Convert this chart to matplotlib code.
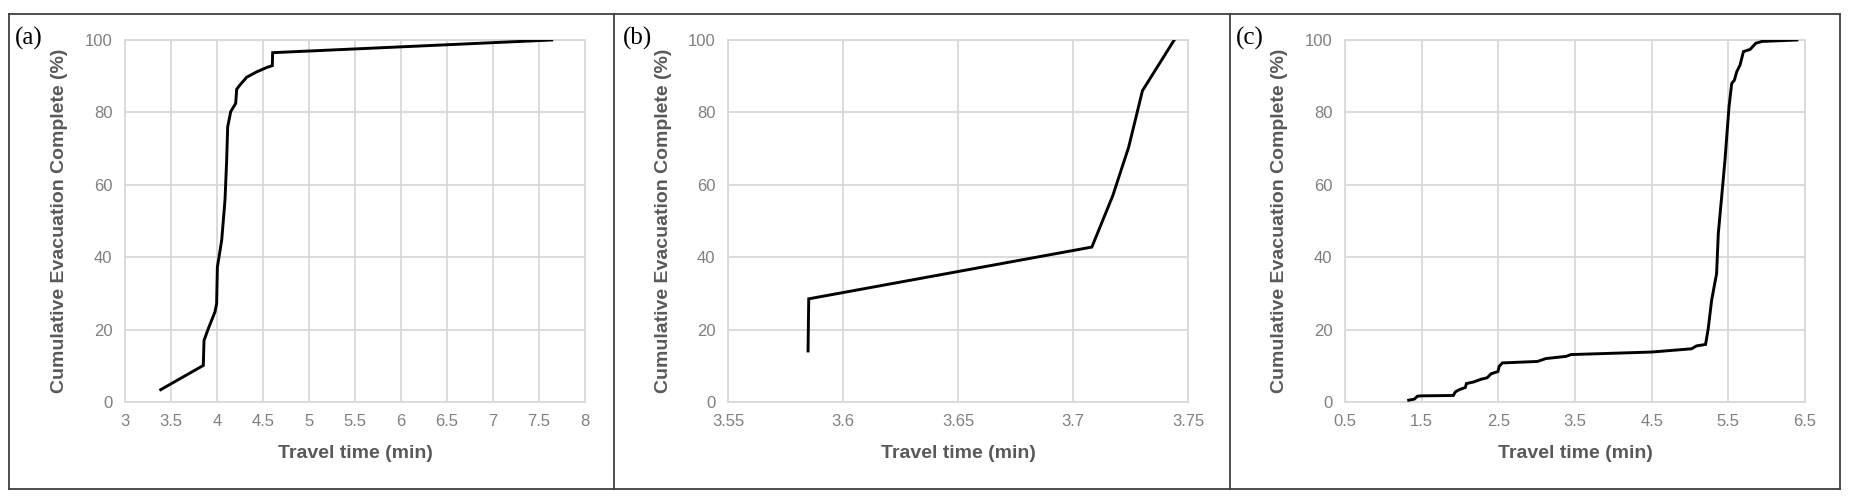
import matplotlib
matplotlib.use("Agg")
import matplotlib.pyplot as plt
import matplotlib.ticker
import numpy as np
from matplotlib.lines import Line2D

# (a) travel time (min) vs cumulative evacuation (%)
time_a = [3.388, 3.851, 3.859, 3.906, 3.978, 3.996, 4.004, 4.022, 4.051, 4.087,
          4.105, 4.116, 4.149, 4.203, 4.214, 4.25, 4.322, 4.431, 4.54, 4.601,
          4.605, 7.638]
pct_a = [3.4, 10.1, 17.0, 20.3, 24.9, 27.2, 37.3, 40.1, 44.7, 55.8,
         66.8, 76.0, 80.2, 82.5, 86.4, 87.6, 89.7, 91.2, 92.4, 92.9,
         96.5, 100.0]

# (b)
time_b = [3.5848, 3.5851, 3.7082, 3.7173, 3.7242, 3.7302, 3.744]
pct_b = [14.1, 28.5, 42.8, 57.0, 70.4, 86.0, 100.0]

# (c)
time_c = [1.331, 1.404, 1.445, 1.497, 1.913, 1.939, 1.99, 2.069, 2.084, 2.173,
          2.277, 2.355, 2.406, 2.495, 2.51, 2.552, 3.011, 3.12, 3.382, 3.448,
          4.5, 5.02, 5.085, 5.203, 5.238, 5.282, 5.347, 5.369, 5.413, 5.456,
          5.509, 5.544, 5.579, 5.609, 5.653, 5.697, 5.784, 5.858, 5.937, 6.395]
pct_c = [0.5, 0.8, 1.6, 1.7, 1.8, 2.8, 3.4, 4.0, 5.1, 5.5,
         6.3, 6.7, 7.8, 8.4, 9.8, 10.8, 11.2, 12.0, 12.6, 13.1,
         13.8, 14.7, 15.5, 15.9, 20.3, 28.1, 35.5, 46.5, 56.7, 66.8,
         81.6, 88.0, 88.9, 91.2, 93.1, 96.8, 97.4, 99.1, 99.6, 100.0]

panel_labels = ["(a)", "(b)", "(c)"]
x_limits = [(3, 8, 0.5), (3.55, 3.75, 0.05), (0.5, 6.5, 1)]

W, H = 1852, 500
GRID = "#d9d9d9"
TICK = "#808080"
LABEL = "#595959"

plt.rcParams['font.family'] = ['Liberation Sans', 'DejaVu Sans']

fig = plt.figure(figsize=(W / 100, H / 100), dpi=100)

# outer frame and separators (pixel coords -> figure fraction)
def fig_line(x0, y0, x1, y1):
    fig.add_artist(Line2D([x0 / W, x1 / W], [1 - y0 / H, 1 - y1 / H],
                          color="#404040", lw=1.3, transform=fig.transFigure))

fig_line(9, 14, 1840, 14)
fig_line(9, 489, 1840, 489)
fig_line(9, 14, 9, 489)
fig_line(1840, 14, 1840, 489)
fig_line(614, 14, 614, 489)
fig_line(1230, 14, 1230, 489)

axes_left = [125, 728, 1345]
label_x = [15, 623, 1236]
series = [(time_a, pct_a), (time_b, pct_b), (time_c, pct_c)]

for i in range(3):
    ax = fig.add_axes((axes_left[i] / W, 1 - 402 / H, 460 / W, 362 / H))
    t, p = series[i]
    ax.plot(t, p, color="black", lw=2.1, solid_joinstyle="miter", zorder=3)

    lo, hi, step = x_limits[i]
    ax.set_xlim(lo, hi)
    ax.set_ylim(0, 100)
    ax.xaxis.set_major_locator(matplotlib.ticker.FixedLocator(np.arange(lo, hi + step / 2, step)))
    ax.xaxis.set_major_formatter(matplotlib.ticker.FuncFormatter(lambda v, pos: "%g" % round(v, 3)))
    ax.yaxis.set_major_locator(matplotlib.ticker.MultipleLocator(20))

    ax.grid(True, color=GRID, lw=1.3)
    for s in ax.spines.values():
        s.set_color(GRID)
        s.set_linewidth(1.3)
    ax.tick_params(length=0, colors=TICK, labelsize=12)
    ax.tick_params(axis="y", pad=9)
    ax.tick_params(axis="x", pad=9)

    ax.set_xlabel("Travel time (min)", fontsize=14, fontweight="bold",
                  color=LABEL, va="center")
    ax.set_ylabel("Cumulative Evacuation Complete (%)", fontsize=14,
                  fontweight="bold", color=LABEL, va="center")
    ax.xaxis.set_label_coords(0.5, -51 / 362)
    ax.yaxis.set_label_coords(-65 / 460, 0.5)

    fig.text(label_x[i] / W, 1 - 38 / H, panel_labels[i], fontsize=18,
             family="Liberation Serif", ha="left", va="center")

fig.savefig("out.png", dpi=100)
